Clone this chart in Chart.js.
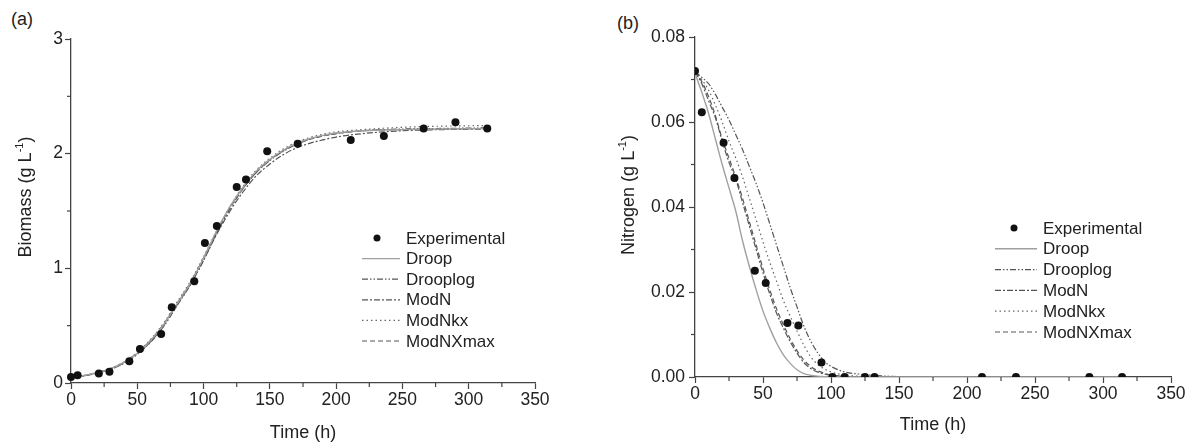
<!DOCTYPE html>
<html>
<head>
<meta charset="utf-8">
<script src="https://cdn.jsdelivr.net/npm/chart.js@4.4.0/dist/chart.umd.min.js"></script>
<style>
  body { margin: 0; background: #fff; width: 1197px; height: 444px; overflow: hidden; position: relative;
         font-family: "Liberation Sans", Arial, sans-serif; }
  canvas { position: absolute; top: 0; }
  #chartA { left: 0; }
  #chartB { left: 600px; }
  .panel { position: absolute; font-size: 18px; color: #222; }
</style>
</head>
<body>
<div class="panel" style="left:11px;top:9px">(a)</div>
<div class="panel" style="left:617px;top:13px">(b)</div>
<canvas id="chartA" width="580" height="444"></canvas>
<canvas id="chartB" width="597" height="444"></canvas>
<script>
// experimental points
var biomassTime = [0, 5, 21, 29, 44, 52, 68, 76, 93, 101, 110, 125, 132, 148, 171, 211, 236, 266, 290, 314];
var biomassExp  = [0.052, 0.067, 0.082, 0.099, 0.19, 0.297, 0.428, 0.66, 0.887, 1.222, 1.37, 1.71, 1.775, 2.022, 2.086, 2.12, 2.155, 2.22, 2.275, 2.22];
var nitrogenTime = [0, 5, 21, 29, 44, 52, 68, 76, 93, 101, 110, 125, 132, 211, 236, 290, 314];
var nitrogenExp  = [0.072, 0.0623, 0.0551, 0.0468, 0.025, 0.0221, 0.0127, 0.0121, 0.0034, 0, 0, 0, 0, 0, 0, 0, 0];

// model curves (a) biomass
var fitTimeX    = [0, 10, 20, 30, 40, 50, 60, 70, 80, 90, 100, 110, 120, 130, 140, 150, 160, 170, 180, 190, 200, 220, 250, 280, 314];
var droopX      = [0.05, 0.065, 0.09, 0.125, 0.18, 0.26, 0.37, 0.51, 0.69, 0.87, 1.09, 1.33, 1.54, 1.71, 1.85, 1.95, 2.03, 2.09, 2.13, 2.16, 2.18, 2.20, 2.21, 2.215, 2.22];
var drooplogX   = [0.05, 0.063, 0.087, 0.12, 0.172, 0.25, 0.355, 0.495, 0.675, 0.855, 1.07, 1.31, 1.52, 1.70, 1.84, 1.94, 2.02, 2.08, 2.125, 2.155, 2.175, 2.20, 2.215, 2.22, 2.225];
var modNX       = [0.05, 0.064, 0.088, 0.122, 0.175, 0.252, 0.36, 0.50, 0.68, 0.86, 1.07, 1.30, 1.50, 1.67, 1.81, 1.91, 1.99, 2.05, 2.09, 2.12, 2.145, 2.175, 2.20, 2.21, 2.215];
var modNkxX     = [0.05, 0.066, 0.092, 0.128, 0.185, 0.268, 0.38, 0.525, 0.705, 0.885, 1.10, 1.33, 1.54, 1.72, 1.86, 1.96, 2.04, 2.10, 2.14, 2.17, 2.19, 2.21, 2.23, 2.24, 2.245];
var modNXmaxX   = [0.05, 0.065, 0.09, 0.126, 0.182, 0.263, 0.373, 0.515, 0.695, 0.875, 1.09, 1.32, 1.53, 1.70, 1.84, 1.945, 2.025, 2.085, 2.125, 2.155, 2.175, 2.20, 2.21, 2.215, 2.22];

// model curves (b) nitrogen
var fitTimeN    = [0, 5, 10, 15, 20, 25, 30, 35, 40, 45, 50, 55, 60, 65, 70, 75, 80, 85, 90, 95, 100, 110, 120, 130, 150, 170, 200, 250, 314];
var droopN      = [0.0715, 0.067, 0.062, 0.056, 0.050, 0.0445, 0.039, 0.032, 0.026, 0.0205, 0.0155, 0.0115, 0.008, 0.0052, 0.0032, 0.0017, 0.0008, 0.0004, 0.0002, 0.0001, 0, 0, 0, 0, 0, 0, 0, 0, 0];
var drooplogN   = [0.0718, 0.0705, 0.069, 0.0665, 0.0635, 0.0605, 0.057, 0.0535, 0.0495, 0.0455, 0.041, 0.036, 0.031, 0.026, 0.021, 0.0165, 0.012, 0.0085, 0.0058, 0.0037, 0.0025, 0.0012, 0.0007, 0.0004, 0.0001, 0, 0, 0, 0];
var modNN       = [0.0718, 0.069, 0.065, 0.061, 0.0555, 0.0505, 0.0465, 0.041, 0.0355, 0.030, 0.0245, 0.0195, 0.015, 0.0115, 0.0083, 0.0056, 0.0034, 0.002, 0.0012, 0.0007, 0.0004, 0.0001, 0, 0, 0, 0, 0, 0, 0];
var modNkxN     = [0.0718, 0.070, 0.0675, 0.064, 0.060, 0.0555, 0.0515, 0.047, 0.042, 0.037, 0.0318, 0.027, 0.0225, 0.018, 0.0143, 0.0108, 0.0075, 0.0048, 0.003, 0.0019, 0.0012, 0.0005, 0.0002, 0.0001, 0, 0, 0, 0, 0];
var modNXmaxN   = [0.0718, 0.0695, 0.066, 0.0615, 0.056, 0.0515, 0.047, 0.042, 0.0365, 0.031, 0.0255, 0.0205, 0.016, 0.0123, 0.009, 0.0062, 0.004, 0.0025, 0.0015, 0.0009, 0.0005, 0.00015, 0.00005, 0, 0, 0, 0, 0, 0];

var modelNames = ['Droop', 'Drooplog', 'ModN', 'ModNkx', 'ModNXmax'];
var lineStyles = {
  Droop:    { color: '#a0a0a0', dash: [], width: 1.4 },
  Drooplog: { color: '#555', dash: [6, 2, 1.5, 2, 1.5, 2], width: 1.2 },
  ModN:     { color: '#555', dash: [6, 2, 2, 2], width: 1.2 },
  ModNkx:   { color: '#666', dash: [1.5, 3], width: 1.2 },
  ModNXmax: { color: '#555', dash: [5, 3], width: 1.2 }
};

Chart.defaults.font.family = '"Liberation Sans", Arial, sans-serif';
Chart.defaults.color = '#222';

function pts(xs, ys) {
  return xs.map(function(x, i) { return { x: x, y: ys[i] }; });
}

function makeSets(expT, expV, fitT, curves, clipPts) {
  var sets = [{
    label: 'Experimental', data: pts(expT, expV), showLine: false,
    pointRadius: 4, pointBackgroundColor: '#111', pointBorderWidth: 0, clip: clipPts
  }];
  modelNames.forEach(function(name, i) {
    var st = lineStyles[name];
    sets.push({
      label: name, data: pts(fitT, curves[i]), showLine: true, pointRadius: 0,
      borderColor: st.color, borderWidth: st.width, borderDash: st.dash,
      cubicInterpolationMode: 'monotone', fill: false
    });
  });
  return sets;
}

// small ticks halfway between labelled ticks
var minorTicks = {
  id: 'minorTicks',
  afterDraw: function(chart) {
    var ctx = chart.ctx, xs = chart.scales.x, ys = chart.scales.y, i, p;
    ctx.save();
    ctx.strokeStyle = '#444';
    ctx.lineWidth = 1.2;
    for (i = 0; i < xs.ticks.length - 1; i++) {
      p = xs.getPixelForValue((xs.ticks[i].value + xs.ticks[i + 1].value) / 2);
      ctx.beginPath(); ctx.moveTo(p, xs.top); ctx.lineTo(p, xs.top + 4); ctx.stroke();
    }
    for (i = 0; i < ys.ticks.length - 1; i++) {
      p = ys.getPixelForValue((ys.ticks[i].value + ys.ticks[i + 1].value) / 2);
      ctx.beginPath(); ctx.moveTo(ys.right, p); ctx.lineTo(ys.right - 4, p); ctx.stroke();
    }
    ctx.restore();
  }
};

// rotated y title with superscript -1
var yTitle = {
  id: 'yTitle',
  afterDraw: function(chart, args, o) {
    var ctx = chart.ctx;
    var big = '18px "Liberation Sans", Arial, sans-serif';
    var small = '11px "Liberation Sans", Arial, sans-serif';
    ctx.save();
    ctx.translate(o.x, o.y);
    ctx.rotate(-Math.PI / 2);
    ctx.fillStyle = '#222';
    ctx.textBaseline = 'middle';
    ctx.font = big;
    var w1 = ctx.measureText(o.text).width, w3 = ctx.measureText(')').width;
    ctx.font = small;
    var w2 = ctx.measureText('-1').width;
    var x = -(w1 + w2 + w3) / 2;
    ctx.font = big; ctx.fillText(o.text, x, 0);
    ctx.font = small; ctx.fillText('-1', x + w1, -6);
    ctx.font = big; ctx.fillText(')', x + w1 + w2, 0);
    ctx.restore();
  }
};

// key drawn inside the plot
var key = {
  id: 'key',
  afterDraw: function(chart, args, o) {
    var ctx = chart.ctx;
    ctx.save();
    ctx.font = '17px "Liberation Sans", Arial, sans-serif';
    ctx.textBaseline = 'middle';
    chart.data.datasets.forEach(function(ds, i) {
      var y = o.top + i * o.rowH;
      if (ds.showLine === false) {
        ctx.beginPath();
        ctx.arc(o.dotX, y, 3.5, 0, 2 * Math.PI);
        ctx.fillStyle = ds.pointBackgroundColor;
        ctx.fill();
      } else {
        ctx.beginPath();
        ctx.setLineDash(ds.borderDash);
        ctx.strokeStyle = ds.borderColor;
        ctx.lineWidth = ds.borderWidth;
        ctx.moveTo(o.x0, y); ctx.lineTo(o.x1, y);
        ctx.stroke();
        ctx.setLineDash([]);
      }
      ctx.fillStyle = '#222';
      ctx.fillText(ds.label, o.textX, y + 1);
    });
    ctx.restore();
  }
};

function axisX(h, padB) {
  return {
    type: 'linear', min: 0, max: 350,
    ticks: { stepSize: 50, padding: 1, font: { size: 17.5 }, color: '#222' },
    grid: { drawOnChartArea: false, tickLength: 6, color: '#444', tickWidth: 1.2 },
    border: { color: '#444', width: 1.3 },
    title: { display: true, text: 'Time (h)', font: { size: 18 }, color: '#222', padding: { top: 0, bottom: padB } },
    afterFit: function(s) { s.height = h; }
  };
}

function axisY(w, max, step, pad, fmt) {
  return {
    type: 'linear', min: 0, max: max,
    ticks: { stepSize: step, padding: pad, font: { size: 17.5 }, color: '#222', callback: fmt },
    grid: { drawOnChartArea: false, tickLength: 6, color: '#444', tickWidth: 1.2 },
    border: { color: '#444', width: 1.3 },
    afterFit: function(s) { s.width = w; }
  };
}

new Chart(document.getElementById('chartA'), {
  type: 'scatter',
  data: { datasets: makeSets(biomassTime, biomassExp, fitTimeX, [droopX, drooplogX, modNX, modNkxX, modNXmaxX], false) },
  options: {
    responsive: false, animation: false,
    layout: { padding: { left: 0, top: 39, right: 45, bottom: 0 } },
    scales: {
      x: axisX(61, 0),
      y: axisY(71, 3, 1, 2, function(v) { return v; })
    },
    plugins: {
      legend: { display: false }, tooltip: { enabled: false },
      yTitle: { x: 26, y: 197, text: 'Biomass (g L' },
      key: { top: 238, rowH: 20.6, x0: 362, x1: 400, dotX: 377, textX: 406 }
    }
  },
  plugins: [minorTicks, yTitle, key]
});

new Chart(document.getElementById('chartB'), {
  type: 'scatter',
  data: { datasets: makeSets(nitrogenTime, nitrogenExp, fitTimeN, [droopN, drooplogN, modNN, modNkxN, modNXmaxN], undefined) },
  options: {
    responsive: false, animation: false,
    layout: { padding: { left: 0, top: 37, right: 26, bottom: 0 } },
    scales: {
      x: axisX(67, 8),
      y: axisY(95, 0.08, 0.02, 4, function(v) { return v.toFixed(2); })
    },
    plugins: {
      legend: { display: false }, tooltip: { enabled: false },
      yTitle: { x: 29, y: 195, text: 'Nitrogen (g L' },
      key: { top: 228, rowH: 20.8, x0: 395, x1: 437, dotX: 414, textX: 443 }
    }
  },
  plugins: [minorTicks, yTitle, key]
});
</script>
</body>
</html>
